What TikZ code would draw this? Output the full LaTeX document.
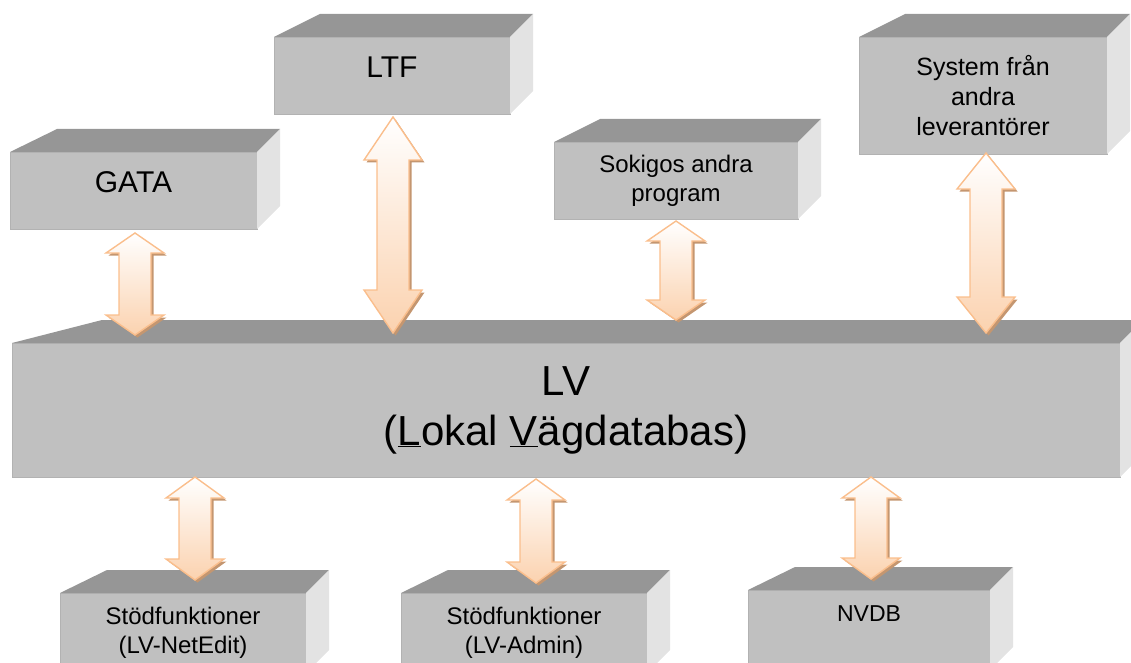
\documentclass[tikz,border=0pt]{standalone}
\usepackage{fontspec}
\setmainfont{Liberation Sans}
\usetikzlibrary{calc,shadows}

\definecolor{frontgray}{RGB}{192,192,192}
\definecolor{topgray}{RGB}{150,150,150}
\definecolor{sidegray}{RGB}{227,227,227}
\definecolor{edgegray}{RGB}{178,178,178}
\definecolor{arrowline}{RGB}{250,190,140}
\definecolor{arrowfill}{RGB}{251,210,175}
\definecolor{arrowshadow}{RGB}{196,150,112}

% top and right faces of a box, #2 = slant of the left edge
\newcommand{\cubefaces}[2]{%
  \fill[topgray] (#1.north west) -- ++(#2pt,23pt) -- ($(#1.north east)+(23pt,23pt)$) -- (#1.north east) -- cycle;
  \fill[sidegray] (#1.north east) -- ++(23pt,23pt) -- ($(#1.south east)+(23pt,23pt)$) -- (#1.south east) -- cycle;
}
% double block arrow from #1 (upper tip) to #2 (lower tip), head length #3
\newcommand{\dblarrow}[3]{%
  \path let \p1=(#1), \p2=(#2) in [arrowbody]
    (\x1,\y1) -- (\x1+29pt,\y1-#3pt) -- (\x1+16pt,\y1-#3pt) -- (\x1+16pt,\y2+#3pt)
    -- (\x1+29pt,\y2+#3pt) -- (\x1,\y2) -- (\x1-29pt,\y2+#3pt) -- (\x1-16pt,\y2+#3pt)
    -- (\x1-16pt,\y1-#3pt) -- (\x1-29pt,\y1-#3pt) -- cycle;
}

\begin{document}
\begin{tikzpicture}[x=1pt,y=-1pt,
box/.style={draw=edgegray, line width=0.8pt, fill=frontgray, inner sep=0pt, outer sep=0pt,
  anchor=north west, align=center, text=black},
bigtext/.style={font=\fontsize{30}{34}\selectfont},
midtext/.style={font=\fontsize{24}{29}\selectfont},
arrowbody/.style={draw=arrowline, line width=1.4pt, line join=miter, top color=white, bottom color=arrowfill,
  drop shadow={shadow xshift=2.5pt, shadow yshift=-2.5pt, fill=arrowshadow, opacity=1}},
]
\useasboundingbox (0,0) rectangle (1131,663);
\clip (0,0) rectangle (1131,663);

%Boxes
\node[box, bigtext, minimum width=247pt, minimum height=77pt, text depth=17pt] (gata) at (10,152) {GATA};
\node[box, bigtext, minimum width=236pt, minimum height=77pt, text depth=17pt] (ltf) at (274,37) {LTF};
\node[box, midtext, minimum width=244pt, minimum height=77pt] (sokigos) at (554,142) {Sokigos andra\\program};
\node[box, font=\fontsize{25}{30}\selectfont, minimum width=248pt, minimum height=117pt] (system) at (859,37)
  {System från\\andra\\leverantörer};
\node[box, font=\fontsize{42}{50}\selectfont, minimum width=1108pt, minimum height=134pt] (lv) at (12,343)
  {LV\\(\underline{L}okal \underline{V}ägdatabas)};
\node[box, midtext, minimum width=246pt, minimum height=80pt] (netedit) at (60,593) {Stödfunktioner\\(LV-NetEdit)};
\node[box, midtext, minimum width=246pt, minimum height=80pt] (admin) at (401,593) {Stödfunktioner\\(LV-Admin)};
\node[box, font=\fontsize{23}{28}\selectfont, minimum width=242pt, minimum height=80pt, text depth=32pt] (nvdb) at (748,590) {NVDB};

\cubefaces{gata}{47}
\cubefaces{ltf}{46}
\cubefaces{sokigos}{46}
\cubefaces{system}{46}
\cubefaces{lv}{90}
\cubefaces{netedit}{47}
\cubefaces{admin}{47}
\cubefaces{nvdb}{47}

%Arrows
\coordinate (gatatop) at ($(gata.south)+(1.5,4)$);
\coordinate (gatabot) at ($(gata.south |- lv.north)+(1.5,-8)$);
\coordinate (ltftop)  at ($(ltf.south)+(1,3)$);
\coordinate (ltfbot)  at ($(ltf.south |- lv.north)+(1,-10)$);
\coordinate (soktop)  at ($(sokigos.south)+(0,2)$);
\coordinate (sokbot)  at ($(sokigos.south |- lv.north)+(0,-23)$);
\coordinate (systop)  at ($(system.south)+(3,-1)$);
\coordinate (sysbot)  at ($(system.south |- lv.north)+(3,-10)$);
\coordinate (nettop)  at ($(lv.south -| netedit.north)+(12,0)$);
\coordinate (netbot)  at ($(netedit.north)+(12,-13)$);
\coordinate (admtop)  at ($(lv.south -| admin.north)+(12,2)$);
\coordinate (admbot)  at ($(admin.north)+(12,-10)$);
\coordinate (nvdtop)  at ($(lv.south -| nvdb.north)+(2,0)$);
\coordinate (nvdbot)  at ($(nvdb.north)+(2,-11)$);

\dblarrow{gatatop}{gatabot}{20}
\dblarrow{ltftop}{ltfbot}{43}
\dblarrow{soktop}{sokbot}{20}
\dblarrow{systop}{sysbot}{36}
\dblarrow{nettop}{netbot}{21}
\dblarrow{admtop}{admbot}{21}
\dblarrow{nvdtop}{nvdbot}{21}

\end{tikzpicture}
\end{document}
